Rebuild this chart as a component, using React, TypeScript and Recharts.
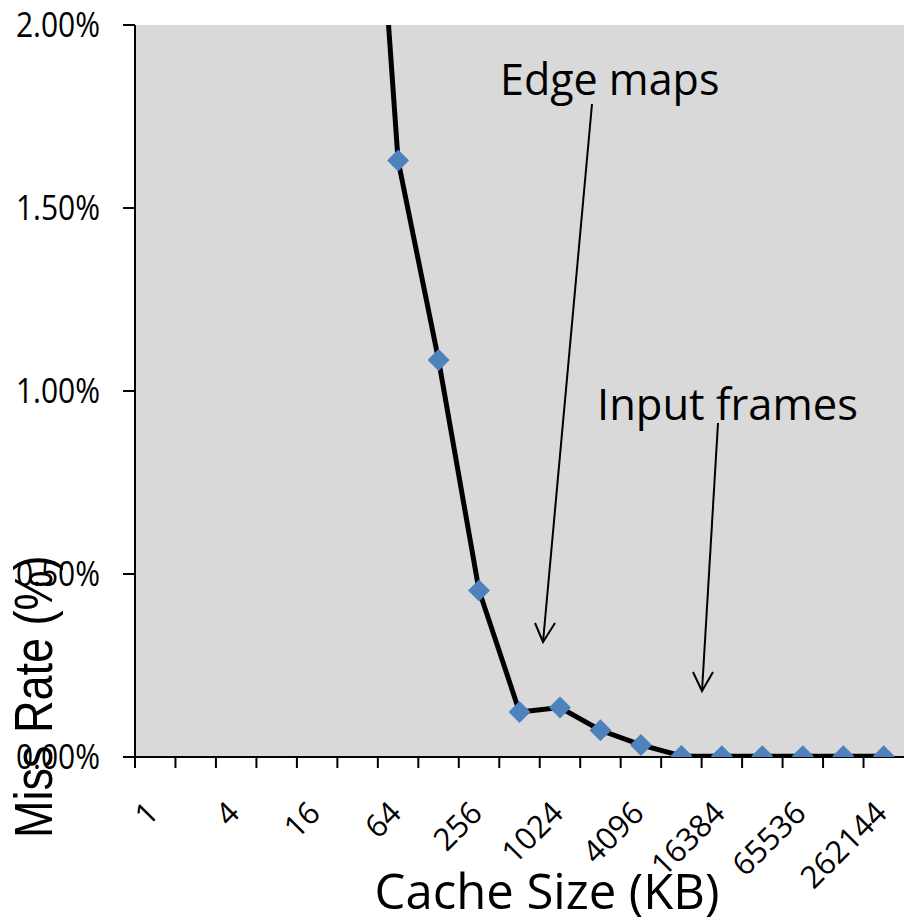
import React from 'react';
import { LineChart, Line, XAxis, YAxis, CartesianGrid } from 'recharts';

const categories = ['1', '2', '4', '8', '16', '32', '64', '128', '256', '512', '1024', '2048', '4096', '8192', '16384', '32768', '65536', '131072', '262144'];
const missRate = [14.0, 10.5, 8.0, 6.0, 4.5, 3.2, 1.63, 1.085, 0.455, 0.123, 0.135, 0.073, 0.033, 0.003, 0.002, 0.002, 0.002, 0.002, 0.002];
const yTicks = [0, 0.5, 1.0, 1.5, 2.0];

const data = categories.map((c, i) => ({ size: c, rate: missRate[i] }));

const W = 904;
const H = 923;
const PLOT_LEFT = 135;
const STEP = (W - PLOT_LEFT) / categories.length;
const FONT = '"Open Sans", "Noto Sans", sans-serif';

const XTick = (props: any) => {
  const { x, y, payload, index } = props;
  const half = STEP / 2;
  const ax = x + 5;
  const ay = y + 58;
  return (
    <g>
      <line x1={x - half} y1={y} x2={x - half} y2={y + 11} stroke="#000" strokeWidth={2} />
      {index % 2 === 0 && (
        <text x={ax} y={ay} textAnchor="end" fontSize={31} fontFamily={FONT} fill="#000"
          transform={`rotate(-45 ${ax} ${ay})`}>
          {payload.value}
        </text>
      )}
    </g>
  );
};

const YTick = (props: any) => {
  const { x, y, payload } = props;
  return (
    <text x={0} y={0} dy="0.36em" textAnchor="end" fontSize={30} fontFamily={FONT} fill="#000"
      transform={`translate(${x} ${y}) scale(1 1.15)`}>
      {Number(payload.value).toFixed(2)}%
    </text>
  );
};

const Diamond = (props: any) => {
  const { cx, cy, payload, index } = props;
  if (payload.rate > 2) return <g key={index} />;
  const r = 11;
  return (
    <polygon key={index} points={`${cx},${cy - r} ${cx + r},${cy} ${cx},${cy + r} ${cx - r},${cy}`} fill="#4F81BD" />
  );
};

export default function App() {
  return (
    <div style={{ position: 'absolute', left: 0, top: 0, width: W, height: H, background: '#fff' }}>
      <LineChart width={W} height={H} data={data} margin={{ top: 25, right: 0, bottom: 0, left: 0 }}>
        <CartesianGrid horizontal={false} vertical={false} fill="#D9D9D9" stroke="none" />
        <XAxis dataKey="size" interval={0} height={166} tickSize={0} tickMargin={0} tickLine={false}
          padding={{ left: STEP / 2, right: STEP / 2 }}
          axisLine={{ stroke: '#000', strokeWidth: 2 }} tick={<XTick />} />
        <YAxis domain={[0, 2]} ticks={yTicks} allowDataOverflow width={PLOT_LEFT} tickSize={12} tickMargin={23}
          axisLine={{ stroke: '#000', strokeWidth: 2 }} tickLine={{ stroke: '#000', strokeWidth: 2 }}
          tick={<YTick />} />
        <Line type="linear" dataKey="rate" stroke="#000" strokeWidth={5} dot={<Diamond />} activeDot={false}
          isAnimationActive={false} />
      </LineChart>
      <svg width={W} height={H} style={{ position: 'absolute', left: 0, top: 0, pointerEvents: 'none' }}>
        <text x={500} y={95} fontSize={43} fontFamily={FONT} fill="#000">Edge maps</text>
        <line x1={592} y1={104} x2={543} y2={642} stroke="#000" strokeWidth={2} />
        <polyline points="535,623 543,642 555,623" fill="none" stroke="#000" strokeWidth={2} />
        <text x={597} y={420} fontSize={43.5} fontFamily={FONT} fill="#000">Input frames</text>
        <line x1={718} y1={423} x2={702} y2={691} stroke="#000" strokeWidth={2} />
        <polyline points="693,672 702,691 713,672" fill="none" stroke="#000" strokeWidth={2} />
        <text x={0} y={0} fontSize={45} fontFamily='"Liberation Sans", Arial, sans-serif' fill="#000"
          transform="translate(52 838) rotate(-90) scale(1 1.2)">Miss Rate (%)</text>
        <text x={547} y={909} textAnchor="middle" fontSize={49} fontFamily={FONT} fill="#000">Cache Size (KB)</text>
      </svg>
    </div>
  );
}
